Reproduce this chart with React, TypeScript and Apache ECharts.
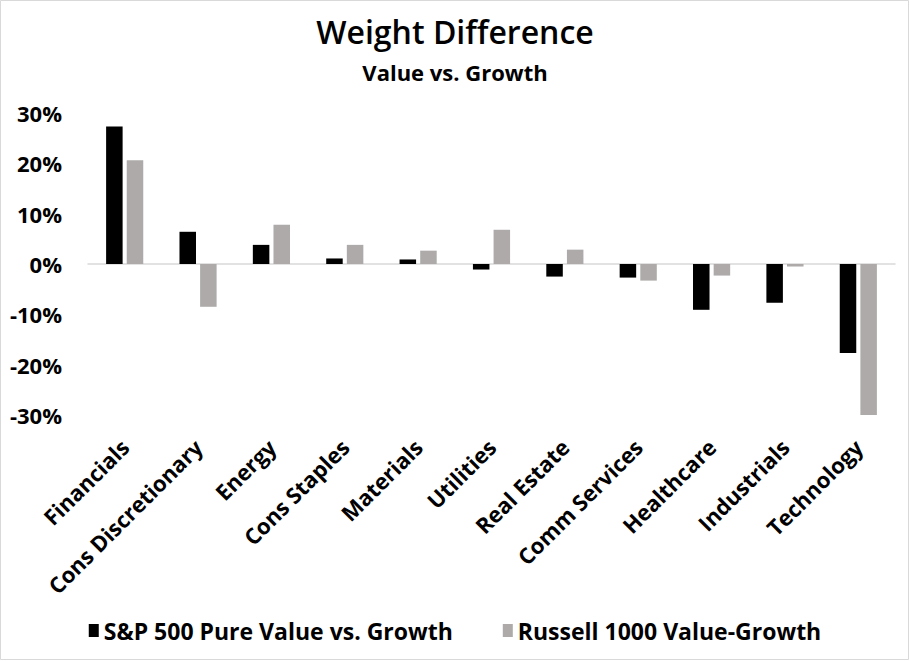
import React, { useEffect, useRef } from "react";
import * as echarts from "echarts";

const categories = [
  "Financials",
  "Cons Discretionary",
  "Energy",
  "Cons Staples",
  "Materials",
  "Utilities",
  "Real Estate",
  "Comm Services",
  "Healthcare",
  "Industrials",
  "Technology",
];
const spPureValueVsGrowth = [27.3, 6.4, 3.8, 1.1, 0.9, -1.1, -2.5, -2.7, -9.1, -7.7, -17.7];
const russell1000ValueGrowth = [20.6, -8.5, 7.8, 3.8, 2.65, 6.8, 2.85, -3.3, -2.3, -0.5, -30.4];
const seriesNames = ["S&P 500 Pure Value vs. Growth", "Russell 1000 Value-Growth"];

const FONT = "'Open Sans', 'Noto Sans', sans-serif";

export default function App() {
  const ref = useRef<HTMLDivElement>(null);
  useEffect(() => {
    if (!ref.current) return;
    const chart = echarts.init(ref.current, null, { renderer: "svg" });
    chart.setOption({
      animation: false,
      backgroundColor: "#ffffff",
      title: [
        {
          text: "Weight Difference",
          left: "center",
          top: 10,
          textStyle: { fontFamily: FONT, fontSize: 32, fontWeight: 600, color: "#000" },
        },
        {
          text: "Value vs. Growth",
          left: "center",
          top: 56,
          textStyle: { fontFamily: FONT, fontSize: 22, fontWeight: "bold", color: "#000" },
        },
      ],
      legend: {
        bottom: 14,
        left: "center",
        itemWidth: 10,
        itemHeight: 13,
        itemGap: 50,
        icon: "rect",
        textStyle: { fontFamily: FONT, fontSize: 23, fontWeight: "bold", color: "#000" },
        data: seriesNames,
      },
      grid: { left: 88, right: 15, top: 113, bottom: 246, containLabel: false },
      xAxis: [
        {
          type: "category",
          data: categories,
          position: "bottom",
          axisLine: { show: false, onZero: false },
          axisTick: { show: false },
          axisLabel: {
            rotate: 45,
            interval: 0,
            margin: 28,
            fontFamily: FONT,
            fontSize: 22,
            fontWeight: "bold",
            color: "#000",
          },
        },
        {
          type: "category",
          data: categories,
          position: "bottom",
          axisLine: { show: true, onZero: true, lineStyle: { color: "#d9d9d9", width: 1.5 } },
          axisTick: { show: false },
          axisLabel: { show: false },
        },
      ],
      yAxis: {
        type: "value",
        min: -30,
        max: 30,
        interval: 10,
        splitLine: { show: false },
        axisLine: { show: false },
        axisTick: { show: false },
        axisLabel: {
          formatter: "{value}%",
          margin: 26,
          fontFamily: FONT,
          fontSize: 22,
          fontWeight: "bold",
          color: "#000",
        },
      },
      series: [
        {
          name: seriesNames[0],
          type: "bar",
          data: spPureValueVsGrowth,
          itemStyle: { color: "#000000" },
          barWidth: "22.5%",
          barGap: "25%",
        },
        {
          name: seriesNames[1],
          type: "bar",
          data: russell1000ValueGrowth,
          itemStyle: { color: "#aeaaaa" },
          barWidth: "22.5%",
          barGap: "25%",
        },
      ],
      graphic: [
        {
          type: "rect",
          shape: { x: 0.5, y: 0.5, width: 908, height: 659 },
          style: { fill: "none", stroke: "#d9d9d9", lineWidth: 1 },
          silent: true,
        },
      ],
    });
    return () => chart.dispose();
  }, []);
  return (
    <div
      ref={ref}
      style={{ position: "fixed", left: 0, top: 0, width: 910, height: 661 }}
    />
  );
}
